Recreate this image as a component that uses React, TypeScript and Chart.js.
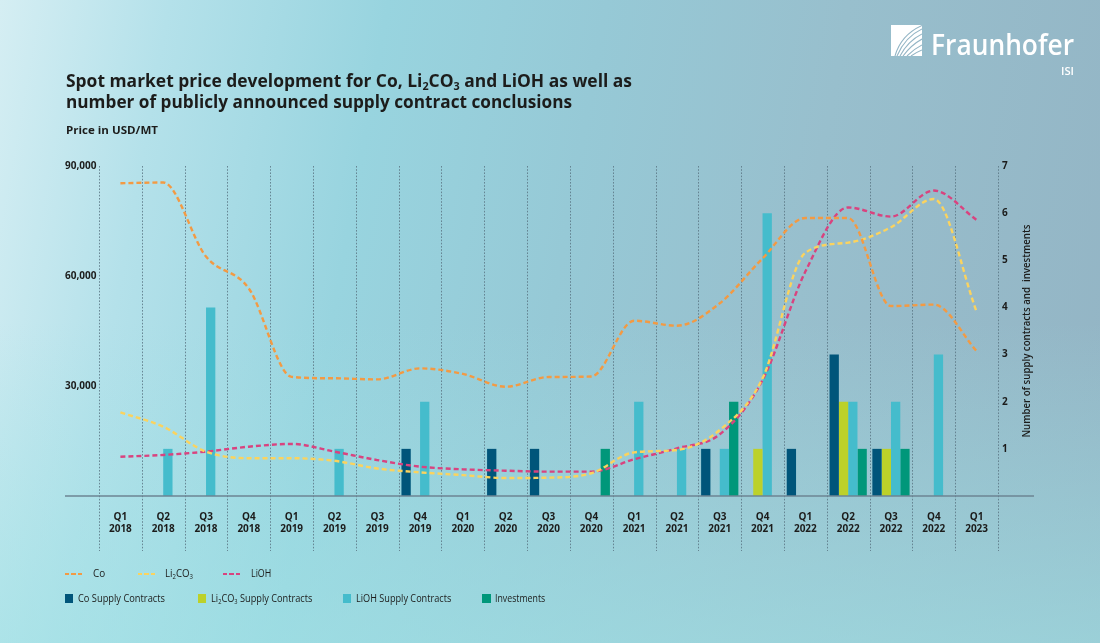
import React, { useEffect, useLayoutEffect, useRef } from 'react';
import { Chart, registerables } from 'chart.js';

Chart.register(...registerables);

// ---------- DATA ----------
const categories: string[][] = [
  ['Q1', '2018'], ['Q2', '2018'], ['Q3', '2018'], ['Q4', '2018'],
  ['Q1', '2019'], ['Q2', '2019'], ['Q3', '2019'], ['Q4', '2019'],
  ['Q1', '2020'], ['Q2', '2020'], ['Q3', '2020'], ['Q4', '2020'],
  ['Q1', '2021'], ['Q2', '2021'], ['Q3', '2021'], ['Q4', '2021'],
  ['Q1', '2022'], ['Q2', '2022'], ['Q3', '2022'], ['Q4', '2022'],
  ['Q1', '2023'],
];

// Spot prices (USD/MT)
const coPrice = [85300, 85500, 65300, 56600, 32500, 32100, 31800, 34800, 33300, 29800, 32450, 32600, 47800, 46450, 52550, 64800, 75800, 75800, 51800, 52200, 39550];
const li2co3Price = [22800, 18900, 12100, 10300, 10300, 9600, 7500, 6450, 5700, 4900, 5000, 6200, 11900, 12550, 18000, 32100, 66350, 69100, 73300, 81000, 50300];
const liohPrice = [10700, 11200, 12100, 13450, 14200, 12100, 9800, 8000, 7270, 6900, 6640, 6640, 10000, 13000, 16800, 31600, 61200, 78700, 76200, 83300, 75300];

// Number of supply contracts / investments
const coContracts = [0, 0, 0, 0, 0, 0, 0, 1, 0, 1, 1, 0, 0, 0, 1, 0, 1, 3, 1, 0, 0];
const li2co3Contracts = [0, 0, 0, 0, 0, 0, 0, 0, 0, 0, 0, 0, 0, 0, 0, 1, 0, 2, 1, 0, 0];
const liohContracts = [0, 1, 4, 0, 0, 1, 0, 2, 0, 0, 0, 0, 2, 1, 1, 6, 0, 2, 2, 3, 0];
const investments = [0, 0, 0, 0, 0, 0, 0, 0, 0, 0, 0, 1, 0, 0, 2, 0, 0, 1, 1, 0, 0];

const priceTicks = [30000, 60000, 90000];
const countTicks = [1, 2, 3, 4, 5, 6, 7];

const rightAxisTitle = 'Number of supply contracts and  investments';

// ---------- STYLE ----------
const C_CO = '#f39a43';
const C_LI = '#fbd35e';
const C_LIOH = '#d9437f';
const C_CO_BAR = '#00557a';
const C_LI_BAR = '#bcd12a';
const C_LIOH_BAR = '#45bccc';
const C_INV_BAR = '#00977a';
const TXT = '#1c1c1b';
const FONT = '"Open Sans", sans-serif';

type FitProps = {
  x: number; baseline: number; size: number; weight?: number; width: number;
  color?: string; children: React.ReactNode;
};

function Fit({ x, baseline, size, weight = 400, width, color = TXT, children }: FitProps) {
  const ref = useRef<HTMLSpanElement>(null);
  useLayoutEffect(() => {
    const el = ref.current;
    if (!el) return;
    const fit = () => {
      el.style.transform = 'none';
      const w = el.getBoundingClientRect().width;
      if (w > 0) el.style.transform = `scaleX(${width / w})`;
    };
    fit();
    if ((document as any).fonts && (document as any).fonts.ready) {
      (document as any).fonts.ready.then(fit);
    }
  });
  return (
    <span
      ref={ref}
      style={{
        position: 'absolute', left: x, top: baseline - 0.888 * size,
        fontSize: size, lineHeight: `${size}px`, fontWeight: weight, color,
        whiteSpace: 'nowrap', transformOrigin: '0 0', fontFamily: FONT,
      }}
    >
      {children}
    </span>
  );
}

const Sub = ({ children }: { children: React.ReactNode }) => (
  <span style={{ fontSize: '0.62em', position: 'relative', top: '0.28em' }}>{children}</span>
);

function Dash({ x, y, color }: { x: number; y: number; color: string }) {
  return (
    <>
      {[0, 1, 2].map((i) => (
        <div key={i} style={{ position: 'absolute', left: x + i * 6.3, top: y - 1.2, width: 4.3, height: 2.5, background: color }} />
      ))}
    </>
  );
}

function Sq({ x, y, color }: { x: number; y: number; color: string }) {
  return <div style={{ position: 'absolute', left: x, top: y - 4.5, width: 8.4, height: 9, background: color }} />;
}

const decorPlugin = {
  id: 'decor',
  beforeDatasetsDraw(chart: any) {
    const { ctx, chartArea, scales } = chart;
    const xs = scales.x;
    const step = xs.getPixelForValue(1) - xs.getPixelForValue(0);
    const start = xs.getPixelForValue(0) - step / 2;
    ctx.save();
    ctx.strokeStyle = 'rgba(92,120,134,0.85)';
    ctx.lineWidth = 1;
    ctx.setLineDash([1.6, 1.6]);
    for (let i = 0; i <= categories.length; i++) {
      const px = Math.round(start + i * step) + 0.5;
      ctx.beginPath();
      ctx.moveTo(px, chartArea.top);
      ctx.lineTo(px, chartArea.bottom + 55);
      ctx.stroke();
    }
    ctx.restore();
  },
  afterDatasetsDraw(chart: any) {
    const { ctx, scales } = chart;
    const y0 = scales.y.getPixelForValue(0);
    ctx.save();
    ctx.strokeStyle = '#6c8593';
    ctx.lineWidth = 1.5;
    ctx.beginPath();
    ctx.moveTo(65, y0);
    ctx.lineTo(1034, y0);
    ctx.stroke();
    ctx.restore();
  },
  afterDraw(chart: any) {
    const { ctx, chartArea } = chart;
    ctx.save();
    ctx.translate(1027, (chartArea.top + chartArea.bottom) / 2);
    ctx.rotate(-Math.PI / 2);
    ctx.font = `600 11px ${FONT}`;
    const w = ctx.measureText(rightAxisTitle).width;
    ctx.scale(213 / w, 1);
    ctx.fillStyle = TXT;
    ctx.textAlign = 'center';
    ctx.textBaseline = 'middle';
    ctx.fillText(rightAxisTitle, 0, 0);
    ctx.restore();
  },
};

function ChartCanvas() {
  const ref = useRef<HTMLCanvasElement>(null);
  useEffect(() => {
    if (!ref.current) return;
    Chart.defaults.font.family = FONT;
    const lineDs = (label: string, data: number[], color: string) => ({
      type: 'line' as const,
      label,
      data,
      yAxisID: 'y',
      borderColor: color,
      backgroundColor: color,
      borderWidth: 2.4,
      borderDash: [5, 3],
      pointRadius: 0,
      cubicInterpolationMode: 'monotone',
      fill: false,
      order: 0,
    });
    const barDs = (label: string, data: number[], color: string) => ({
      type: 'bar' as const,
      label,
      data,
      yAxisID: 'y1',
      backgroundColor: color,
      borderWidth: 0,
      categoryPercentage: 0.87,
      barPercentage: 1,
      order: 1,
    });
    const tickFont = { family: FONT, size: 10, weight: 'bold' as const, lineHeight: 1.2 };
    const chart = new Chart(ref.current, {
      type: 'bar',
      data: {
        labels: categories,
        datasets: [
          lineDs('Co', coPrice, C_CO),
          lineDs('Li2CO3', li2co3Price, C_LI),
          lineDs('LiOH', liohPrice, C_LIOH),
          barDs('Co Supply Contracts', coContracts, C_CO_BAR),
          barDs('Li2CO3 Supply Contracts', li2co3Contracts, C_LI_BAR),
          barDs('LiOH Supply Contracts', liohContracts, C_LIOH_BAR),
          barDs('Investments', investments, C_INV_BAR),
        ] as any,
      },
      options: {
        animation: false,
        responsive: false,
        maintainAspectRatio: false,
        layout: { padding: { left: 65, right: 62, top: 166, bottom: 0 } },
        plugins: { legend: { display: false }, tooltip: { enabled: false }, title: { display: false } },
        scales: {
          x: {
            type: 'category',
            offset: true,
            grid: { display: false, drawTicks: false },
            border: { display: false },
            ticks: { font: tickFont, color: TXT, padding: 15, maxRotation: 0, autoSkip: false },
            afterFit: (s: any) => { s.height = 147; },
          },
          y: {
            position: 'left',
            min: 0, max: 90000,
            grid: { display: false, drawTicks: false },
            border: { display: false },
            afterBuildTicks: (s: any) => { s.ticks = priceTicks.map((v) => ({ value: v })); },
            ticks: {
              font: tickFont, color: TXT, crossAlign: 'far', padding: 0,
              callback: (v: any) => Number(v).toLocaleString('en-US'),
            },
            afterFit: (s: any) => { s.width = 34; },
          },
          y1: {
            position: 'right',
            min: 0, max: 7,
            grid: { display: false, drawTicks: false },
            border: { display: false },
            afterBuildTicks: (s: any) => { s.ticks = countTicks.map((v) => ({ value: v })); },
            ticks: { font: tickFont, color: TXT, padding: 4, crossAlign: 'near' },
            afterFit: (s: any) => { s.width = 40; },
          },
        },
      } as any,
      plugins: [decorPlugin],
    });
    return () => chart.destroy();
  }, []);
  return <canvas ref={ref} width={1100} height={643} style={{ position: 'absolute', left: 0, top: 0, width: 1100, height: 643 }} />;
}

function Logo() {
  return (
    <svg width={31} height={31} viewBox="0 0 31 31" style={{ position: 'absolute', left: 891, top: 25 }}>
      <rect x={0} y={0} width={31} height={31} fill="#ffffff" />
      <g stroke="#93b5c5" strokeWidth={1.1} fill="none">
        <path d="M6 31 Q14 12 31 4" />
        <path d="M9 31 Q17 16 31 9" />
        <path d="M12 31 Q20 20 31 14" />
        <path d="M16 31 Q23 24 31 20" />
        <path d="M20 31 Q26 27 31 25" />
        <path d="M4 31 Q10 10 31 0.5" />
      </g>
    </svg>
  );
}

export default function App() {
  useEffect(() => {
    document.body.style.margin = '0';
  }, []);
  return (
    <div
      style={{
        position: 'absolute', left: 0, top: 0, width: 1100, height: 643, overflow: 'hidden',
        fontFamily: FONT,
        background:
          'linear-gradient(180deg, rgba(160,226,229,0) 50%, rgba(160,226,229,0.6) 100%),' +
          'linear-gradient(100deg, #d5eef3 0%, #b4e1ea 14%, #98d4df 32%, #96c9d6 50%, #98bfcd 70%, #93b4c4 100%)',
      }}
    >
      <ChartCanvas />

      <Fit x={66} baseline={87} size={18} weight={700} width={566}>
        Spot market price development for Co, Li<Sub>2</Sub>CO<Sub>3</Sub> and LiOH as well as
      </Fit>
      <Fit x={66} baseline={107.5} size={18} weight={700} width={506}>
        number of publicly announced supply contract conclusions
      </Fit>
      <Fit x={66} baseline={134} size={10.5} weight={700} width={92}>
        Price in USD/MT
      </Fit>

      <Logo />
      <Fit x={931} baseline={55} size={28} weight={600} width={143} color="#ffffff">Fraunhofer</Fit>
      <Fit x={1061} baseline={75.5} size={11.5} weight={600} width={13} color="#ffffff">ISI</Fit>

      {/* Legend row 1 */}
      <Dash x={65} y={574} color={C_CO} />
      <Fit x={93} baseline={577.8} size={10.5} width={12.2}>Co</Fit>
      <Dash x={138} y={574} color={C_LI} />
      <Fit x={165.3} baseline={577.8} size={10.5} width={28}>Li<Sub>2</Sub>CO<Sub>3</Sub></Fit>
      <Dash x={223} y={574} color={C_LIOH} />
      <Fit x={251.4} baseline={577.8} size={10.5} width={20.3}>LiOH</Fit>

      {/* Legend row 2 */}
      <Sq x={65} y={598.8} color={C_CO_BAR} />
      <Fit x={77.7} baseline={602.6} size={10.5} width={87}>Co Supply Contracts</Fit>
      <Sq x={197.5} y={598.8} color={C_LI_BAR} />
      <Fit x={210.5} baseline={602.6} size={10.5} width={101.4}>Li<Sub>2</Sub>CO<Sub>3</Sub> Supply Contracts</Fit>
      <Sq x={342.5} y={598.8} color={C_LIOH_BAR} />
      <Fit x={355.5} baseline={602.6} size={10.5} width={95.3}>LiOH Supply Contracts</Fit>
      <Sq x={482.2} y={598.8} color={C_INV_BAR} />
      <Fit x={495.2} baseline={602.6} size={10.5} width={50.2}>Investments</Fit>
    </div>
  );
}
